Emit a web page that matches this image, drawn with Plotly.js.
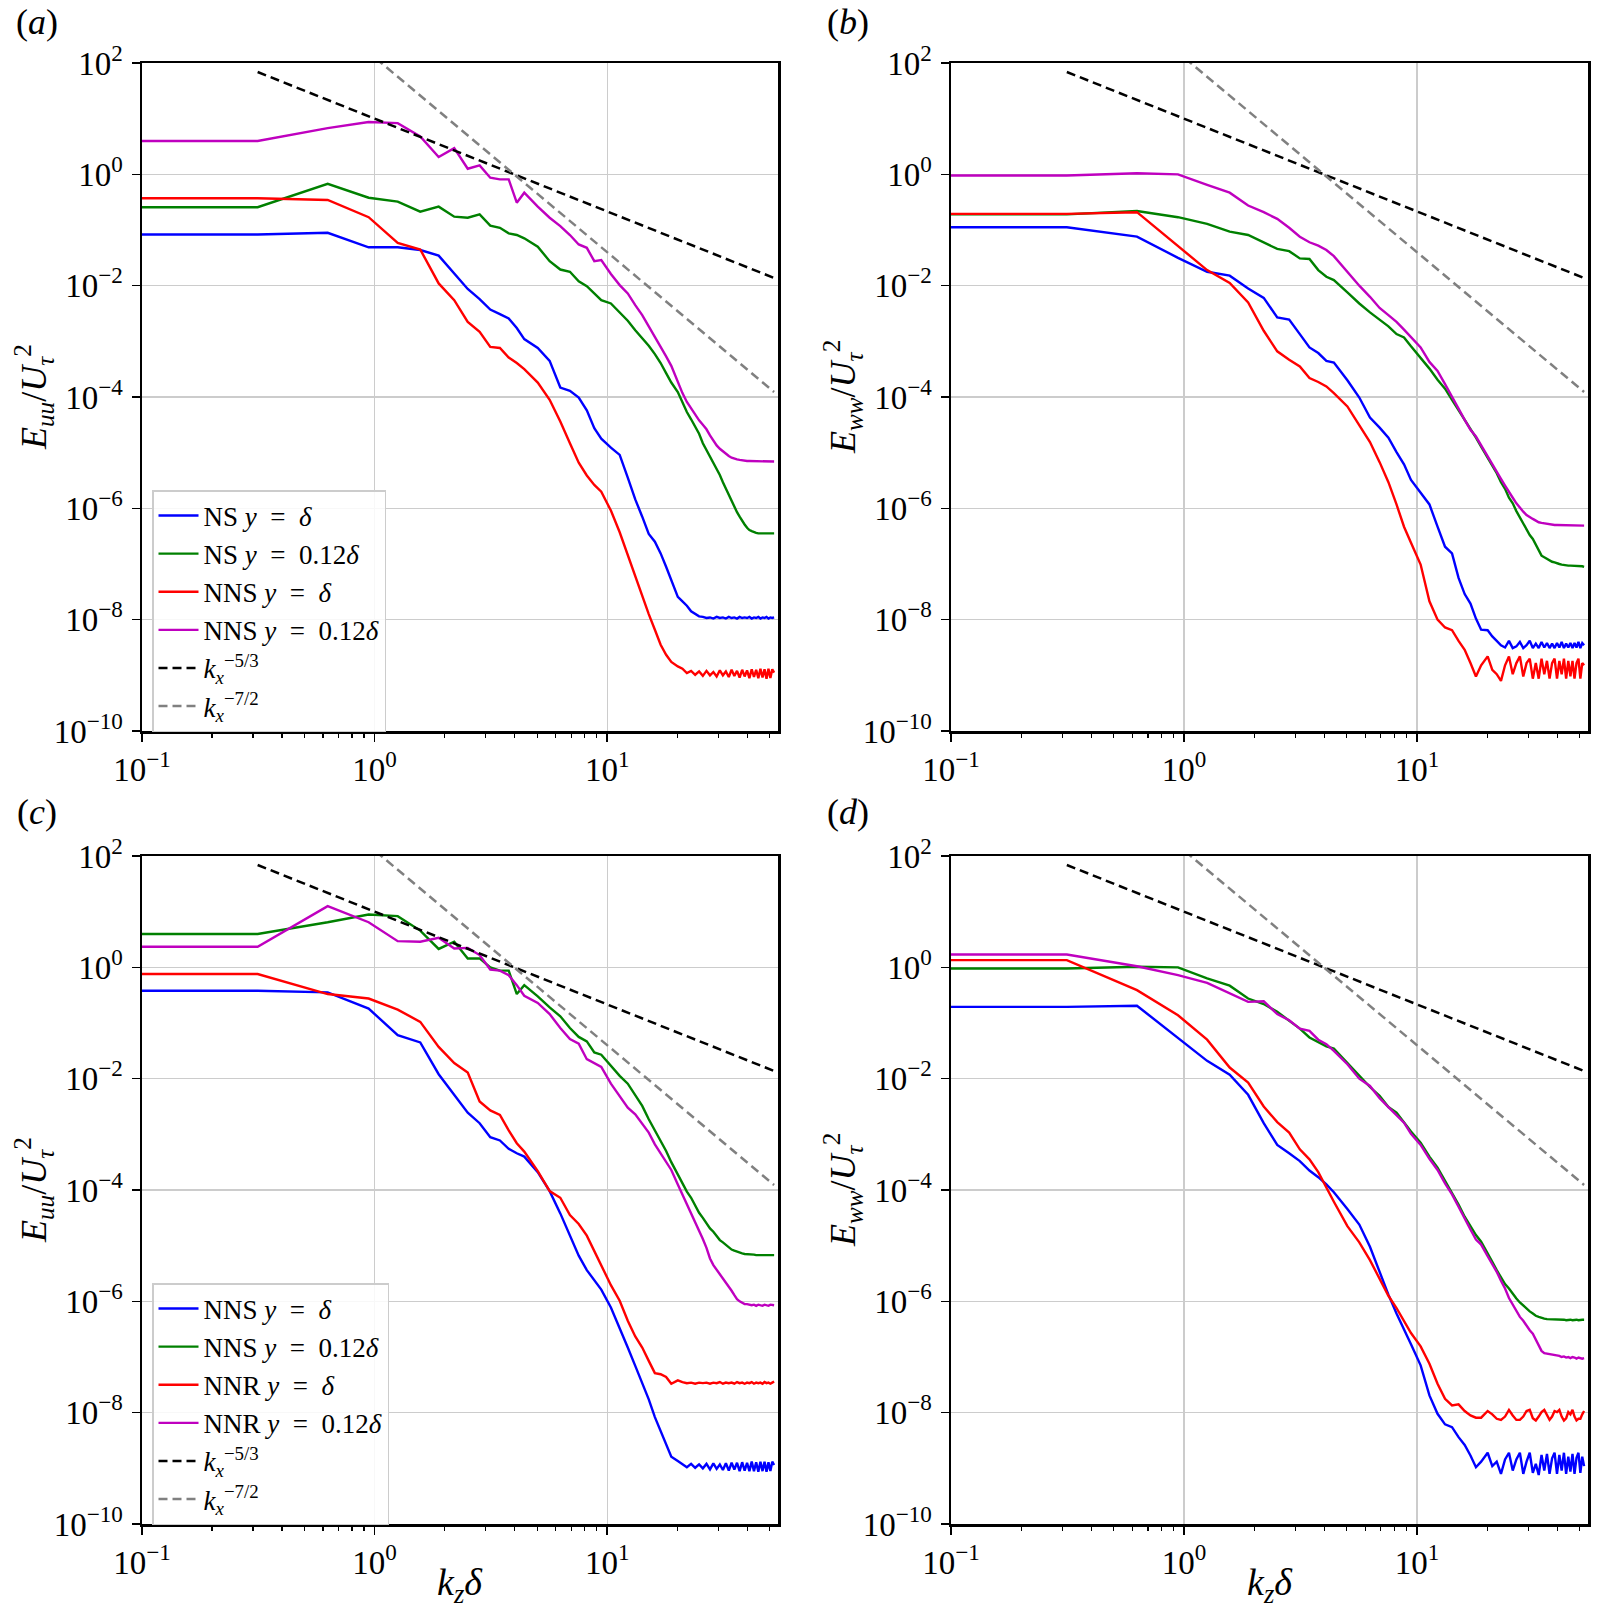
<!DOCTYPE html>
<html>
<head>
<meta charset="utf-8">
<script src="https://cdn.plot.ly/plotly-3.0.1.min.js"></script>
<style>
body{margin:0;background:#fff}
#fig{width:1598px;height:1618px}
</style>
</head>
<body>
<div id="fig"></div>
<script>
// sampled spanwise modes, k = n * pi/10
const modeIdx = [1,2,3,4,5,6,7,8,9,10,11,12,13,14,
  16,18,20,22,24,26,28,30,
  33,36,39,42,45,48,51,54,57,60,
  64,67,70,73,76,79,82,85,88,91,94,97,100,103,106,109,112,115,118,121,124,127,130,133,136,139,142,145,148,151,154,157,160,163,166];

// all spectra stored as log10(E / U_tau^2)
// (a) E_uu
const aNSd = [-1.08,-1.05,-1.31,-1.31,-1.36,-1.46,-1.78,-2.06,-2.24,-2.43,-2.51,-2.59,-2.76,-2.96,
  -3.12,-3.35,-3.83,-3.89,-4.01,-4.24,-4.56,-4.75,
  -4.91,-5.04,-5.45,-5.84,-6.15,-6.46,-6.60,-6.81,-7.05,-7.28,
  -7.59,-7.67,-7.75,-7.85,-7.90,-7.94,-7.95,-7.97,-7.96,-7.98,-7.95,-7.97,-7.96,-7.98,-7.95,-7.97,-7.96,-7.98,
  -7.95,-7.97,-7.96,-7.97,-7.95,-7.98,-7.96,-7.97,-7.95,-7.98,-7.96,-7.97,-7.95,-7.98,-7.96,-7.97,-7.96];
const aNS12 = [-0.59,-0.17,-0.42,-0.49,-0.67,-0.58,-0.76,-0.78,-0.72,-0.92,-0.96,-1.06,-1.09,-1.15,
  -1.30,-1.56,-1.71,-1.75,-1.92,-2.01,-2.14,-2.26,
  -2.32,-2.48,-2.63,-2.80,-2.94,-3.08,-3.23,-3.39,-3.57,-3.74,
  -3.91,-4.09,-4.27,-4.40,-4.52,-4.66,-4.83,-4.95,-5.08,-5.18,-5.30,-5.40,-5.53,-5.65,-5.76,-5.88,-5.98,
  -6.07,-6.15,-6.23,-6.29,-6.35,-6.39,-6.41,-6.43,-6.44,-6.45,-6.45,-6.46,-6.45,-6.46,-6.46,-6.45,-6.46,-6.45];
const aNNSd = [-0.43,-0.46,-0.77,-1.23,-1.35,-1.96,-2.26,-2.65,-2.83,-3.10,-3.12,-3.29,-3.39,-3.50,
  -3.74,-4.05,-4.44,-4.83,-5.18,-5.41,-5.58,-5.70,
  -6.04,-6.43,-6.85,-7.24,-7.59,-7.90,-8.18,-8.45,-8.63,-8.76,
  -8.84,-8.88,-8.96,-8.92,-8.99,-8.93,-9.01,-8.92,-9.00,-8.94,-9.02,-8.91,-9.00,-8.93,-9.03,-8.90,-9.01,
  -8.92,-9.04,-8.90,-9.02,-8.91,-9.05,-8.89,-9.03,-8.90,-9.05,-8.88,-9.04,-8.89,-9.06,-8.88,-9.05,-8.89,-8.95];
const aNNS12 = [0.60,0.83,0.94,0.92,0.68,0.31,0.47,0.10,0.16,-0.06,-0.09,-0.09,-0.51,-0.33,
  -0.58,-0.78,-0.93,-1.09,-1.26,-1.32,-1.56,-1.54,
  -1.79,-1.99,-2.14,-2.35,-2.53,-2.73,-2.92,-3.08,-3.27,-3.44,
  -3.74,-3.93,-4.09,-4.21,-4.32,-4.42,-4.50,-4.58,-4.69,-4.79,-4.87,-4.93,-4.98,-5.03,-5.06,-5.09,-5.11,
  -5.12,-5.13,-5.14,-5.14,-5.15,-5.15,-5.15,-5.16,-5.16,-5.16,-5.16,-5.16,-5.16,-5.16,-5.16,-5.16,-5.16,-5.16];

// (b) E_ww
const bNSd = [-0.95,-1.12,-1.50,-1.75,-1.82,-2.05,-2.22,-2.57,-2.61,-2.87,-3.11,-3.21,-3.35,-3.38,
  -3.70,-4.01,-4.37,-4.55,-4.73,-4.99,-5.21,-5.49,
  -5.71,-5.93,-6.33,-6.69,-6.81,-7.25,-7.54,-7.71,-7.98,-8.18,
  -8.19,-8.30,-8.38,-8.46,-8.50,-8.38,-8.51,-8.48,-8.40,-8.51,-8.46,-8.38,-8.51,-8.43,-8.51,-8.40,-8.50,
  -8.42,-8.51,-8.43,-8.51,-8.42,-8.50,-8.40,-8.51,-8.43,-8.50,-8.42,-8.51,-8.42,-8.50,-8.40,-8.51,-8.42,-8.46];
const bNS12 = [-0.72,-0.66,-0.77,-0.89,-1.03,-1.09,-1.22,-1.34,-1.38,-1.51,-1.52,-1.72,-1.84,-1.90,
  -2.12,-2.32,-2.48,-2.61,-2.73,-2.87,-2.93,-3.09,
  -3.29,-3.49,-3.69,-3.85,-4.05,-4.23,-4.41,-4.57,-4.73,-4.89,
  -5.09,-5.23,-5.37,-5.53,-5.65,-5.81,-5.91,-6.05,-6.17,-6.27,-6.37,-6.48,-6.55,-6.65,-6.75,-6.85,-6.88,
  -6.91,-6.93,-6.96,-6.97,-6.99,-7.00,-7.01,-7.02,-7.02,-7.03,-7.03,-7.03,-7.04,-7.03,-7.04,-7.04,-7.04,-7.05];
const bNNSd = [-0.71,-0.68,-1.29,-1.72,-1.95,-2.30,-2.81,-3.18,-3.33,-3.45,-3.66,-3.73,-3.81,-3.93,
  -4.17,-4.50,-4.81,-5.17,-5.53,-5.93,-6.33,-6.62,
  -7.01,-7.67,-8.00,-8.14,-8.19,-8.38,-8.54,-8.78,-9.02,-8.82,
  -8.66,-8.90,-8.98,-9.10,-8.82,-8.66,-8.98,-8.78,-8.66,-9.02,-8.78,-8.70,-9.06,-8.78,-9.06,-8.70,-8.98,
  -8.74,-9.06,-8.78,-8.70,-9.06,-8.74,-8.98,-8.70,-9.06,-8.74,-9.02,-8.74,-9.06,-8.78,-8.70,-9.06,-8.78,-8.82];
const bNNS12 = [-0.02,0.02,0.00,-0.19,-0.33,-0.56,-0.68,-0.80,-0.96,-1.12,-1.22,-1.28,-1.36,-1.47,
  -1.76,-2.00,-2.20,-2.40,-2.53,-2.65,-2.79,-2.93,
  -3.11,-3.37,-3.53,-3.77,-4.01,-4.21,-4.41,-4.59,-4.71,-4.87,
  -5.07,-5.21,-5.36,-5.47,-5.59,-5.71,-5.81,-5.91,-5.99,-6.06,-6.12,-6.16,-6.19,-6.22,-6.25,-6.26,-6.27,
  -6.28,-6.29,-6.29,-6.30,-6.30,-6.30,-6.31,-6.30,-6.31,-6.31,-6.31,-6.31,-6.31,-6.31,-6.31,-6.30,-6.31,-6.31];

// (c) E_uu
const cNNSd = [-0.42,-0.45,-0.74,-1.22,-1.35,-1.92,-2.30,-2.61,-2.80,-3.05,-3.11,-3.26,-3.34,-3.40,
  -3.68,-4.02,-4.42,-4.82,-5.18,-5.44,-5.63,-5.79,
  -6.11,-6.47,-6.83,-7.16,-7.48,-7.76,-8.08,-8.32,-8.56,-8.79,
  -8.87,-8.92,-8.98,-8.92,-8.99,-8.93,-9.00,-8.92,-9.02,-8.91,-9.01,-8.93,-9.03,-8.91,-9.04,-8.90,-9.02,
  -8.90,-9.05,-8.89,-9.04,-8.90,-9.05,-8.88,-9.05,-8.89,-9.06,-8.88,-9.05,-8.88,-9.06,-8.89,-9.05,-8.88,-8.94];
const cNNS12 = [0.60,0.81,0.95,0.92,0.66,0.33,0.46,0.16,0.16,0.00,-0.06,-0.06,-0.48,-0.32,
  -0.52,-0.72,-0.88,-1.09,-1.25,-1.33,-1.53,-1.57,
  -1.77,-1.95,-2.09,-2.29,-2.49,-2.73,-2.93,-3.14,-3.30,-3.50,
  -3.73,-3.88,-4.03,-4.14,-4.29,-4.41,-4.50,-4.60,-4.69,-4.75,-4.82,-4.90,-4.94,-4.99,-5.04,-5.07,-5.09,
  -5.11,-5.13,-5.14,-5.15,-5.15,-5.16,-5.16,-5.16,-5.17,-5.17,-5.17,-5.17,-5.17,-5.17,-5.17,-5.17,-5.17,-5.17];
const cNNRd = [-0.12,-0.48,-0.56,-0.76,-0.98,-1.43,-1.72,-1.89,-2.41,-2.57,-2.65,-2.93,-3.16,-3.31,
  -3.66,-4.02,-4.14,-4.45,-4.61,-4.82,-5.10,-5.35,
  -5.71,-5.99,-6.35,-6.63,-6.83,-7.07,-7.29,-7.31,-7.36,-7.48,
  -7.42,-7.45,-7.47,-7.46,-7.48,-7.46,-7.47,-7.46,-7.48,-7.46,-7.47,-7.45,-7.48,-7.46,-7.47,-7.46,-7.48,
  -7.45,-7.47,-7.46,-7.48,-7.46,-7.47,-7.45,-7.48,-7.46,-7.47,-7.46,-7.48,-7.45,-7.47,-7.46,-7.48,-7.46,-7.44];
const cNNR12 = [0.37,1.10,0.81,0.47,0.46,0.53,0.34,0.35,0.22,-0.04,-0.06,-0.14,-0.32,-0.51,
  -0.64,-0.84,-1.09,-1.29,-1.37,-1.65,-1.73,-1.79,
  -2.09,-2.31,-2.52,-2.64,-2.81,-2.97,-3.18,-3.34,-3.48,-3.64,
  -3.90,-4.08,-4.24,-4.40,-4.56,-4.74,-4.88,-5.04,-5.23,-5.35,-5.43,-5.51,-5.59,-5.67,-5.73,-5.81,-5.89,
  -5.96,-6.00,-6.03,-6.05,-6.05,-6.06,-6.07,-6.06,-6.08,-6.06,-6.07,-6.08,-6.06,-6.07,-6.08,-6.06,-6.07,-6.07];

// (d) E_ww
const dNNSd = [-0.71,-0.69,-1.26,-1.68,-1.93,-2.29,-2.80,-3.19,-3.34,-3.48,-3.65,-3.77,-3.90,-4.04,
  -4.34,-4.62,-5.02,-5.47,-5.88,-6.22,-6.52,-6.77,
  -7.15,-7.69,-8.02,-8.21,-8.26,-8.44,-8.58,-8.77,-8.98,-8.88,
  -8.72,-8.96,-8.88,-9.10,-8.84,-8.72,-9.04,-8.84,-8.72,-9.10,-8.88,-8.72,-9.08,-8.92,-9.12,-8.76,-9.04,
  -8.74,-9.10,-8.82,-8.72,-9.10,-8.76,-9.04,-8.72,-9.10,-8.79,-9.06,-8.74,-9.10,-8.81,-8.72,-9.08,-8.79,-8.96];
const dNNS12 = [-0.02,0.01,0.00,-0.20,-0.33,-0.56,-0.66,-0.80,-0.95,-1.10,-1.26,-1.34,-1.42,-1.46,
  -1.72,-1.96,-2.15,-2.31,-2.51,-2.61,-2.79,-2.95,
  -3.15,-3.40,-3.60,-3.84,-4.04,-4.26,-4.48,-4.65,-4.81,-4.93,
  -5.13,-5.29,-5.44,-5.57,-5.69,-5.77,-5.87,-5.95,-6.02,-6.08,-6.14,-6.18,-6.22,-6.26,-6.28,-6.30,-6.31,
  -6.32,-6.32,-6.33,-6.33,-6.33,-6.33,-6.33,-6.33,-6.34,-6.33,-6.33,-6.34,-6.33,-6.33,-6.34,-6.33,-6.33,-6.33];
const dNNRd = [0.13,-0.41,-0.86,-1.30,-1.80,-2.07,-2.50,-2.78,-2.97,-3.27,-3.45,-3.68,-3.96,-4.21,
  -4.65,-4.94,-5.26,-5.60,-5.90,-6.12,-6.36,-6.57,
  -6.81,-7.12,-7.48,-7.75,-7.87,-7.85,-7.97,-8.05,-8.09,-8.09,
  -7.97,-8.03,-8.11,-8.13,-8.07,-7.95,-8.05,-8.13,-8.13,-8.07,-7.97,-7.95,-8.10,-8.14,-8.07,-7.99,-7.95,
  -8.05,-8.13,-8.07,-7.97,-7.99,-7.95,-8.07,-8.14,-8.10,-7.99,-8.03,-7.95,-8.07,-8.14,-8.11,-8.11,-8.03,-7.97];
const dNNR12 = [0.23,0.02,-0.14,-0.28,-0.46,-0.62,-0.61,-0.84,-0.95,-1.10,-1.14,-1.30,-1.38,-1.50,
  -1.74,-2.00,-2.13,-2.35,-2.51,-2.65,-2.79,-2.99,
  -3.19,-3.44,-3.64,-3.88,-4.08,-4.30,-4.52,-4.71,-4.89,-4.98,
  -5.19,-5.33,-5.47,-5.63,-5.77,-5.94,-6.06,-6.18,-6.28,-6.35,-6.44,-6.52,-6.58,-6.68,-6.78,-6.89,-6.93,
  -6.94,-6.94,-6.96,-6.97,-6.98,-6.98,-7.00,-6.99,-7.01,-7.00,-7.02,-7.00,-7.01,-7.03,-7.01,-7.02,-7.03,-7.02];

const EQ = '&nbsp; = &nbsp;';
const namesTop = ['NS <i>y</i>' + EQ + '<i>δ</i>', 'NS <i>y</i>' + EQ + '0.12<i>δ</i>',
                  'NNS <i>y</i>' + EQ + '<i>δ</i>', 'NNS <i>y</i>' + EQ + '0.12<i>δ</i>'];
const namesBot = ['NNS <i>y</i>' + EQ + '<i>δ</i>', 'NNS <i>y</i>' + EQ + '0.12<i>δ</i>',
                  'NNR <i>y</i>' + EQ + '<i>δ</i>', 'NNR <i>y</i>' + EQ + '0.12<i>δ</i>'];
const refNames = ['<i>k</i><sub><i>x</i></sub><sup>−5/3</sup>', '<i>k</i><sub><i>x</i></sub><sup>−7/2</sup>'];
const refCoef = [10, 126];   // prefactors of the k^-5/3 and k^-7/2 guide lines
const refSlope = [-5/3, -7/2];

const colors = ['#0000ff', '#008000', '#ff0000', '#bf00bf'];
const refColors = ['#000000', '#808080'];
const FONT = 'Liberation Serif, Times New Roman, serif';

const dk = Math.PI / 10;
const kz = modeIdx.map(n => n * dk);
// k = 0 mode sits off the log axis, drawn flat from the left edge like matplotlib does
const kLeft = 0.05;

const panels = [
  {x: 'x',  y: 'y',  data: [aNSd, aNS12, aNNSd, aNNS12], names: namesTop, legend: 'legend'},
  {x: 'x2', y: 'y2', data: [bNSd, bNS12, bNNSd, bNNS12], names: namesTop, legend: null},
  {x: 'x3', y: 'y3', data: [cNNSd, cNNS12, cNNRd, cNNR12], names: namesBot, legend: 'legend2'},
  {x: 'x4', y: 'y4', data: [dNNSd, dNNS12, dNNRd, dNNR12], names: namesBot, legend: null}
];

let traces = [];
panels.forEach(p => {
  p.data.forEach((vals, i) => {
    let ys = vals.map(v => Math.pow(10, v));
    traces.push({
      x: [kLeft].concat(kz), y: [ys[0]].concat(ys),
      xaxis: p.x, yaxis: p.y, mode: 'lines', type: 'scatter',
      name: p.names[i], line: {color: colors[i], width: 2.4},
      showlegend: p.legend !== null, legend: p.legend || 'legend'
    });
  });
  refCoef.forEach((c, j) => {
    traces.push({
      x: kz, y: kz.map(k => c * Math.pow(k, refSlope[j])),
      xaxis: p.x, yaxis: p.y, mode: 'lines', type: 'scatter',
      name: refNames[j], line: {color: refColors[j], width: 2.5, dash: '9px,5px'},
      showlegend: p.legend !== null, legend: p.legend || 'legend'
    });
  });
});

const xTickVals = [0.1, 1, 10];
const xTickText = ['10<sup>−1</sup>', '10<sup>0</sup>', '10<sup>1</sup>'];
const yTickVals = [1e-10, 1e-8, 1e-6, 1e-4, 1e-2, 1, 100];
const yTickText = ['10<sup>−10</sup>', '10<sup>−8</sup>', '10<sup>−6</sup>', '10<sup>−4</sup>', '10<sup>−2</sup>', '10<sup>0</sup>', '10<sup>2</sup>'];
let minorVals = [];
[0.1, 1, 10].forEach(d => { for (let m = 2; m <= 9; m++) minorVals.push(m * d); });

function axBase() {
  return {
    type: 'log', showline: true, mirror: true, linecolor: 'black', linewidth: 2.5,
    ticks: 'outside', ticklen: 8, tickwidth: 1.6, tickcolor: 'black',
    showgrid: true, gridcolor: '#cccccc', gridwidth: 1.4, zeroline: false,
    tickfont: {family: FONT, size: 33, color: 'black'}, tickmode: 'array'
  };
}
function xAx(dom, anchor) {
  return Object.assign(axBase(), {domain: dom, anchor: anchor, range: [-1, 1.734],
    tickvals: xTickVals, ticktext: xTickText,
    minor: {tickmode: 'array', tickvals: minorVals, ticks: 'outside', ticklen: 4, tickwidth: 1.2, tickcolor: 'black', showgrid: false}});
}
function yAx(dom, anchor) {
  return Object.assign(axBase(), {domain: dom, anchor: anchor, range: [-10, 2],
    tickvals: yTickVals, ticktext: yTickText, ticklabelstandoff: 2});
}

const W = 1598, H = 1618;
const colL = [142 / W, 778 / W], colR = [951 / W, 1588 / W];
const rowT = [1 - 731 / H, 1 - 63 / H], rowB = [1 - 1524 / H, 1 - 856 / H];

function ann(text, px, py, size, angle) {
  return {text: text, x: px / W, y: 1 - py / H, xref: 'paper', yref: 'paper',
    showarrow: false, xanchor: 'center', yanchor: 'middle', textangle: angle || 0,
    font: {family: FONT, size: size, color: 'black'}};
}
const yTitleUU = '<i>E</i><sub><i>uu</i></sub>/<i>U</i><sub><i>τ</i></sub><sup>2</sup>';
const yTitleWW = '<i>E</i><sub><i>ww</i></sub>/<i>U</i><sub><i>τ</i></sub><sup>2</sup>';
const xTitle = '<i>k</i><sub><i>z</i></sub><i>δ</i>';

const legendStyle = {
  x: 152 / W, xanchor: 'left', yanchor: 'top', itemwidth: 40,
  bgcolor: 'rgba(255,255,255,0.85)', bordercolor: '#cccccc', borderwidth: 1.5,
  font: {family: FONT, size: 27, color: 'black'}, tracegroupgap: 0
};

const layout = {
  width: W, height: H, margin: {l: 0, r: 0, t: 0, b: 0},
  paper_bgcolor: 'white', plot_bgcolor: 'white',
  xaxis: xAx(colL, 'y'), yaxis: yAx(rowT, 'x'),
  xaxis2: xAx(colR, 'y2'), yaxis2: yAx(rowT, 'x2'),
  xaxis3: xAx(colL, 'y3'), yaxis3: yAx(rowB, 'x3'),
  xaxis4: xAx(colR, 'y4'), yaxis4: yAx(rowB, 'x4'),
  legend: Object.assign({}, legendStyle, {y: 1 - 490 / H}),
  legend2: Object.assign({}, legendStyle, {y: 1 - 1283 / H}),
  annotations: [
    ann('(<i>a</i>)', 37, 22, 36), ann('(<i>b</i>)', 848, 22, 36),
    ann('(<i>c</i>)', 37, 812, 36), ann('(<i>d</i>)', 848, 812, 36),
    ann(yTitleUU, 34, 397, 36, -90), ann(yTitleWW, 843, 397, 36, -90),
    ann(yTitleUU, 34, 1190, 36, -90), ann(yTitleWW, 843, 1190, 36, -90),
    ann(xTitle, 460, 1585, 38), ann(xTitle, 1270, 1585, 38)
  ]
};

Plotly.newPlot('fig', traces, layout, {displayModeBar: false, staticPlot: true});
</script>
</body>
</html>
